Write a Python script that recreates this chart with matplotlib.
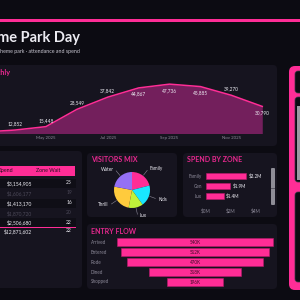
import numpy as np
import matplotlib.pyplot as plt
from matplotlib.patches import FancyBboxPatch, Rectangle
from matplotlib.transforms import blended_transform_factory

plt.rcParams['font.family'] = ['Lato', 'DejaVu Sans']

# colours
BG = "#0c0b12"
CARD = "#16141f"
ROW = "#0f0e16"
PINK = "#ff2d96"
PINK_T = "#e8288f"
AREA = "#731f5c"
TEXT = "#ecebf2"
MUTED = "#8c8998"
DIM = "#4b4858"

# data
months = ["Mar", "Apr", "May", "Jun", "Jul", "Aug", "Sep", "Oct", "Nov", "Dec"]
monthly_visitors = [11400, 12852, 15448, 28549, 37842, 44867, 47736, 45885, 39270, 30790]
tick_months = ["May", "Jul", "Sep", "Nov"]
tick_labels = ["May 2025", "Jul 2025", "Sep 2025", "Nov 2025"]

table_spend = [3154905, 1606177, 1413170, 1870720, 2506680]
table_wait = [25, 19, 16, 20, 22]
total_spend = 12871602
total_wait = 22

mix_labels = ["Family", "Kids", "Lux", "Thrill", "Water"]
mix_share = [21, 19, 13, 25, 22]
mix_colors = ["#ff2d96", "#19e6ff", "#bff23a", "#ffcb3d", "#9470f5"]

zones = ["Family", "Gen", "Lux"]
zone_spend = [3.2, 1.9, 1.4]   # $M

stages = ["Arrived", "Entered", "Rode", "Dined", "Shopped"]
stage_count = [540, 512, 470, 318, 196]   # K

W = H = 300
fig = plt.figure(figsize=(3, 3), dpi=100, facecolor=BG)


def rect(x0, y0, x1, y1):
    return [x0 / W, 1 - y1 / H, (x1 - x0) / W, (y1 - y0) / H]


def card(x0, y0, x1, y1, fc=CARD, ec="none", lw=0, r=4, z=-2):
    p = FancyBboxPatch((x0 / W, 1 - y1 / H), (x1 - x0) / W, (y1 - y0) / H,
                       boxstyle=f"round,pad=0,rounding_size={r / W}",
                       transform=fig.transFigure, fc=fc, ec=ec, lw=lw, zorder=z)
    fig.add_artist(p)


def band(x0, y0, x1, y1, fc, z=-1):
    fig.add_artist(Rectangle((x0 / W, 1 - y1 / H), (x1 - x0) / W, (y1 - y0) / H,
                             transform=fig.transFigure, fc=fc, ec="none", zorder=z))


def label(x, y, s, **kw):
    kw.setdefault("va", "center")
    fig.text(x / W, 1 - y / H, s, **kw)


# header
band(0, 19, 300, 21.5, PINK)
label(80, 42, "Theme Park Day", ha="right", va="baseline", color=TEXT,
      fontsize=10.5, fontweight="bold")
label(80, 52, "Daily theme park · attendance and spend", ha="right",
      color="#c9c7d2", fontsize=3.8)

# cards
card(-10, 65, 277, 146)
card(-10, 151, 82, 288)
card(87, 153, 177, 217)
card(183, 153, 277, 217)
card(87, 224, 277, 289)

# right panel
card(289, 66, 320, 290, fc=PINK, r=6)
card(295, 71, 320, 93, fc=BG, ec="#3a3846", lw=0.5, r=3, z=-1)
card(295, 97, 320, 182, fc=BG, ec="#3a3846", lw=0.5, r=3, z=-1)
band(297, 106, 300, 180, "#9b9aa3", z=-0.5)
card(295, 192, 320, 282, fc=BG, ec="#3a3846", lw=0.5, r=3, z=-1)

# monthly area
label(10.5, 72, "Attendance monthly", ha="right", color=PINK_T,
      fontsize=5.2, fontweight="bold")
ax = fig.add_axes(rect(0, 68, 270, 133))
ax.set_facecolor("none")
x = np.arange(len(months))
ax.fill_between(x, monthly_visitors, 0, color=AREA, lw=0)
ax.plot(x, monthly_visitors, color=PINK, lw=1.1)
ax.set_xlim(0.515, 9.25)
ax.set_ylim(10600, 60000)
below = {"Aug", "Sep", "Oct", "Dec"}
for i, (m, v) in enumerate(zip(months, monthly_visitors)):
    off = -4.5 if m in below else 4.5
    ax.annotate(f"{v:,}", (i, v), xytext=(0, off), textcoords="offset points",
                ha="center", va="center", fontsize=3.4, color=TEXT)
ax.set_xticks([months.index(m) for m in tick_months], tick_labels)
ax.set_yticks([])
ax.tick_params(axis="x", length=0, pad=2, labelsize=3.2, labelcolor=MUTED)
for s in ax.spines.values():
    s.set_visible(False)

# table
band(-10, 166, 75, 175.5, PINK)
band(32.5, 166, 33.3, 175.5, "#c01c72", z=-0.5)
label(13.5, 171, "Spend", ha="right", color="#241020", fontsize=3.8)
label(36, 171, "Zone Wait", ha="left", color="#241020", fontsize=3.8)
row_y = [183, 193, 203, 213, 222]
for i, (sp, wt) in enumerate(zip(table_spend, table_wait)):
    if i % 2 == 0:
        band(-10, row_y[i] - 4.5, 76, row_y[i] + 4.5, ROW)
    c = DIM if i % 2 else TEXT
    label(32, row_y[i], f"${sp:,}", ha="right", color=c, fontsize=3.6)
    label(72, row_y[i], f"{wt}", ha="right", color=c, fontsize=3.6)
band(-10, 226.5, 76, 227.5, PINK, z=-0.5)
label(32, 231, f"${total_spend:,}", ha="right", color=TEXT, fontsize=3.6)
label(72, 231, f"{total_wait}", ha="right", color=TEXT, fontsize=3.6)

# visitors mix
label(91, 160, "VISITORS MIX", ha="left", color=PINK_T, fontsize=5,
      fontweight="bold")
axp = fig.add_axes(rect(114, 172, 150, 208))
wedges, _ = axp.pie(mix_share, colors=mix_colors, startangle=90,
                    counterclock=False, radius=1)
for w, name in zip(wedges, mix_labels):
    th = np.deg2rad((w.theta1 + w.theta2) / 2)
    cx, cy = np.cos(th), np.sin(th)
    axp.plot([1.05 * cx, 1.38 * cx], [1.05 * cy, 1.38 * cy], color=MUTED,
             lw=0.4, clip_on=False)
    axp.text(1.48 * cx + (0.08 if cx > 0 else -0.08), 1.48 * cy, name,
             ha="left" if cx > 0 else "right", va="center", fontsize=3.3,
             color=TEXT)
axp.set_xlim(-1, 1)
axp.set_ylim(-1, 1)

# spend by zone
label(187, 160, "SPEND BY ZONE", ha="left", color=PINK_T, fontsize=5,
      fontweight="bold")
axz = fig.add_axes(rect(206, 171, 261, 201))
axz.set_facecolor("none")
yz = np.arange(len(zones))
axz.barh(yz, zone_spend, height=0.62, color=PINK, edgecolor="#b81a6c", lw=0.4)
for i, v in enumerate(zone_spend):
    axz.text(v + 0.2, i, f"${v}M", va="center", fontsize=3.3, color=TEXT)
axz.set_xlim(0, 4.4)
axz.set_ylim(2.5, -0.5)
axz.set_yticks(yz, zones)
axz.set_xticks([0, 2, 4], ["$0M", "$2M", "$4M"])
axz.tick_params(length=0, labelsize=3.3, labelcolor=MUTED)
axz.tick_params(axis="x", pad=5)
axz.tick_params(axis="y", pad=3)
for s in axz.spines.values():
    s.set_visible(False)
card(271, 168, 275, 205, fc="#8e8d96", r=1, z=-0.5)
band(271, 188, 275, 189, "#5a5963", z=-0.4)

# entry flow
label(91, 231, "ENTRY FLOW", ha="left", color=PINK_T, fontsize=5,
      fontweight="bold")
axf = fig.add_axes(rect(100, 237, 275, 287))
axf.set_facecolor("none")
yf = np.arange(len(stages))
cnt = np.array(stage_count)
axf.barh(yf, cnt, left=-cnt / 2, height=0.84, color=PINK,
         edgecolor="#b81a6c", lw=0.4)
tr = blended_transform_factory(fig.transFigure, axf.transData)
for i, (name, v) in enumerate(zip(stages, stage_count)):
    axf.text(0, i, f"{v}K", ha="center", va="center", fontsize=3.3,
             color="#3a0d26")
    axf.text(91 / W, i, name, transform=tr, ha="left", va="center",
             fontsize=3.3, color=MUTED)
axf.set_xlim(-329, 277)
axf.set_ylim(4.5, -0.5)
axf.axis("off")

fig.savefig("out.png", dpi=100, facecolor=BG)
